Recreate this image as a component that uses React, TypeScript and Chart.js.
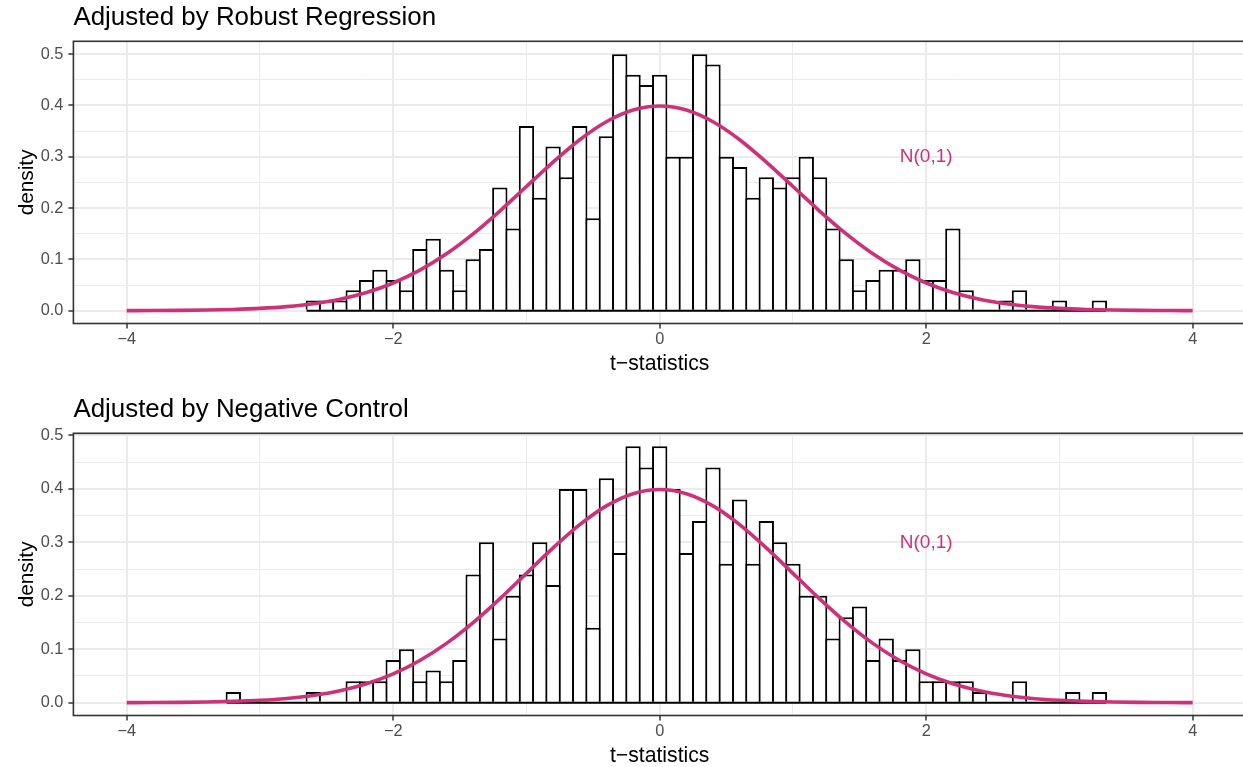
import React, { useEffect, useRef } from "react";
import { Chart, registerables } from "chart.js";
Chart.register(...registerables);

// ---------- data ----------
const binCenters = [
  -3.2, -3.1, -3.0, -2.9, -2.8, -2.7, -2.6, -2.5, -2.4, -2.3,
  -2.2, -2.1, -2.0, -1.9, -1.8, -1.7, -1.6, -1.5, -1.4, -1.3,
  -1.2, -1.1, -1.0, -0.9, -0.8, -0.7, -0.6, -0.5, -0.4, -0.3,
  -0.2, -0.1, 0.0, 0.1, 0.2, 0.3, 0.4, 0.5, 0.6, 0.7,
  0.8, 0.9, 1.0, 1.1, 1.2, 1.3, 1.4, 1.5, 1.6, 1.7,
  1.8, 1.9, 2.0, 2.1, 2.2, 2.3, 2.4, 2.5, 2.6, 2.7,
  2.8, 2.9, 3.0, 3.1, 3.2, 3.3,
];

const robustDensity = [
  0, 0, 0, 0, 0, 0, 0.02, 0.02, 0.02, 0.04,
  0.06, 0.08, 0.06, 0.04, 0.12, 0.14, 0.08, 0.04, 0.10, 0.12,
  0.24, 0.16, 0.36, 0.22, 0.32, 0.26, 0.36, 0.18, 0.34, 0.50,
  0.46, 0.44, 0.46, 0.30, 0.30, 0.50, 0.48, 0.30, 0.28, 0.22,
  0.26, 0.24, 0.26, 0.30, 0.26, 0.16, 0.10, 0.04, 0.06, 0.08,
  0.08, 0.10, 0.06, 0.06, 0.16, 0.04, 0, 0, 0.02, 0.04,
  0, 0, 0.02, 0, 0, 0.02,
];

const negControlDensity = [
  0.02, 0, 0, 0, 0, 0, 0.02, 0, 0, 0.04,
  0.04, 0.04, 0.08, 0.10, 0.04, 0.06, 0.04, 0.08, 0.24, 0.30,
  0.12, 0.20, 0.24, 0.30, 0.22, 0.40, 0.40, 0.14, 0.42, 0.28,
  0.48, 0.44, 0.48, 0.40, 0.28, 0.34, 0.44, 0.26, 0.38, 0.26,
  0.34, 0.30, 0.26, 0.20, 0.20, 0.12, 0.16, 0.18, 0.08, 0.12,
  0.08, 0.10, 0.04, 0.04, 0.04, 0.04, 0.02, 0, 0, 0.04,
  0, 0, 0, 0.02, 0, 0.02,
];

const curveX = [
  -4.0, -3.8, -3.6, -3.4, -3.2, -3.0, -2.8, -2.6, -2.4, -2.2,
  -2.0, -1.8, -1.6, -1.4, -1.2, -1.0, -0.8, -0.6, -0.4, -0.2,
  0.0, 0.2, 0.4, 0.6, 0.8, 1.0, 1.2, 1.4, 1.6, 1.8,
  2.0, 2.2, 2.4, 2.6, 2.8, 3.0, 3.2, 3.4, 3.6, 3.8, 4.0,
];
const curveY = [
  0.00013, 0.00029, 0.00061, 0.00123, 0.00238, 0.00443, 0.00792, 0.01358, 0.02239, 0.03547,
  0.05399, 0.07895, 0.11092, 0.14973, 0.19419, 0.24197, 0.28969, 0.33322, 0.36827, 0.39104,
  0.39894, 0.39104, 0.36827, 0.33322, 0.28969, 0.24197, 0.19419, 0.14973, 0.11092, 0.07895,
  0.05399, 0.03547, 0.02239, 0.01358, 0.00792, 0.00443, 0.00238, 0.00123, 0.00061, 0.00029, 0.00013,
];

const xMajorTicks = [-4, -2, 0, 2, 4];
const xMinorTicks = [-3, -1, 1, 3];
const yMajorTicks = [0, 0.1, 0.2, 0.3, 0.4, 0.5];
const yMinorTicks = [0.05, 0.15, 0.25, 0.35, 0.45];

const panelTitles = ["Adjusted by Robust Regression", "Adjusted by Negative Control"];
const curveLabel = "N(0,1)";
const curveLabelX = 2;
const curveLabelY = 0.3;
const xTitle = "t\u2212statistics";
const yTitle = "density";

// ---------- styles ----------
const FONT = '"Liberation Sans", Arial, Helvetica, sans-serif';
const CURVE_COLOR = "#CD3278";
const GRID = "#EBEBEB";
const DARK = "#333333";
const TICK_TEXT = "#4D4D4D";

const fmtX = (v: number) => (v < 0 ? "\u2212" + Math.abs(v) : String(v));
const isMajorX = (v: number) => xMajorTicks.some((t) => Math.abs(t - v) < 1e-9);
const isMajorY = (v: number) => yMajorTicks.some((t) => Math.abs(t - v) < 1e-9);

function makeDecor(title: string) {
  return {
    id: "decor",
    afterDraw(chart: any) {
      const { ctx, chartArea: a, scales } = chart;
      ctx.save();
      // curve label
      ctx.fillStyle = CURVE_COLOR;
      ctx.font = `19px ${FONT}`;
      ctx.textAlign = "center";
      ctx.textBaseline = "middle";
      ctx.fillText(curveLabel, scales.x.getPixelForValue(curveLabelX), scales.y.getPixelForValue(curveLabelY));
      // panel border
      ctx.strokeStyle = DARK;
      ctx.lineWidth = 1.6;
      ctx.strokeRect(a.left, a.top, a.right - a.left, a.bottom - a.top);
      // title
      ctx.fillStyle = "#000";
      ctx.font = `25.9px ${FONT}`;
      ctx.textAlign = "left";
      ctx.textBaseline = "alphabetic";
      ctx.fillText(title, a.left, a.top - 16.3);
      ctx.restore();
    },
  };
}

function Panel({ values, title, top }: { values: number[]; title: string; top: number }) {
  const ref = useRef<HTMLCanvasElement>(null);
  useEffect(() => {
    const canvas = ref.current!;
    const ymax = Math.max(...values);
    const first = values.findIndex((v) => v > 0);
    let last = values.length - 1;
    while (last > 0 && values[last] === 0) last--;
    const halfBin = (binCenters[1] - binCenters[0]) / 2;
    const baseline = [
      { x: binCenters[first] - halfBin, y: 0 },
      { x: binCenters[last] + halfBin, y: 0 },
    ];
    const chart = new Chart(canvas, {
      type: "bar",
      data: {
        datasets: [
          {
            type: "line",
            data: curveX.map((x, i) => ({ x, y: curveY[i] })),
            borderColor: CURVE_COLOR,
            borderWidth: 3.6,
            pointRadius: 0,
            cubicInterpolationMode: "monotone",
            fill: false,
            order: 0,
          } as any,
          {
            type: "line",
            data: baseline,
            borderColor: "#000",
            borderWidth: 2,
            pointRadius: 0,
            fill: false,
            order: 1,
          } as any,
          {
            type: "bar",
            data: binCenters.map((x, i) => ({ x, y: values[i] })),
            backgroundColor: "#FFFFFF",
            borderColor: "#000000",
            borderWidth: 2,
            borderSkipped: "start",
            barPercentage: 1.15,
            categoryPercentage: 1,
            inflateAmount: 0,
            order: 2,
          } as any,
        ],
      },
      options: {
        animation: false,
        responsive: false,
        devicePixelRatio: 1,
        layout: { padding: { top: 41.3, left: 0, right: 14, bottom: 0.5 } },
        plugins: {
          legend: { display: false },
          tooltip: { enabled: false },
          title: { display: false },
        },
        scales: {
          x: {
            type: "linear",
            min: -4.4,
            max: 4.4,
            offset: false,
            afterBuildTicks: (s: any) => {
              s.ticks = [...xMajorTicks, ...xMinorTicks].sort((a, b) => a - b).map((v) => ({ value: v }));
            },
            afterFit: (s: any) => {
              s.height = 60;
            },
            ticks: {
              autoSkip: false,
              maxRotation: 0,
              padding: 1,
              color: TICK_TEXT,
              font: { family: FONT, size: 16.3 },
              callback: (v: any) => (isMajorX(Number(v)) ? fmtX(Number(v)) : ""),
            },
            grid: {
              offset: false,
              color: GRID,
              lineWidth: (c: any) => (c.tick && isMajorX(c.tick.value) ? 2 : 1),
              tickColor: (c: any) => (c.tick && isMajorX(c.tick.value) ? DARK : "rgba(0,0,0,0)"),
              tickLength: 5,
              tickWidth: 1.5,
            },
            border: { display: false },
            title: {
              display: true,
              text: xTitle,
              color: "#000",
              font: { family: FONT, size: 21.2 },
              padding: { top: 0, bottom: 7 },
            },
          },
          y: {
            type: "linear",
            min: -0.05 * ymax,
            max: 1.05 * ymax,
            afterBuildTicks: (s: any) => {
              s.ticks = [...yMajorTicks, ...yMinorTicks].sort((a, b) => a - b).map((v) => ({ value: v }));
            },
            afterFit: (s: any) => {
              s.width = 73.4;
            },
            ticks: {
              autoSkip: false,
              padding: 5,
              color: TICK_TEXT,
              font: { family: FONT, size: 16.3 },
              callback: (v: any) => (isMajorY(Number(v)) ? Number(v).toFixed(1) : ""),
            },
            grid: {
              color: GRID,
              lineWidth: (c: any) => (c.tick && isMajorY(c.tick.value) ? 2 : 1),
              tickColor: (c: any) => (c.tick && isMajorY(c.tick.value) ? DARK : "rgba(0,0,0,0)"),
              tickLength: 5,
              tickWidth: 1.5,
            },
            border: { display: false },
            title: {
              display: true,
              text: yTitle,
              color: "#000",
              font: { family: FONT, size: 20.8 },
              padding: { top: 15, bottom: 0 },
            },
          },
        },
      } as any,
      plugins: [makeDecor(title)],
    });
    return () => chart.destroy();
  }, [values, title]);
  return (
    <canvas
      ref={ref}
      width={1260}
      height={384}
      style={{ position: "absolute", left: 0, top, width: 1260, height: 384 }}
    />
  );
}

export default function App() {
  return (
    <div
      style={{
        position: "absolute",
        left: 0,
        top: 0,
        width: 1243,
        height: 767,
        overflow: "hidden",
        background: "#FFFFFF",
      }}
    >
      <Panel values={robustDensity} title={panelTitles[0]} top={0} />
      <Panel values={negControlDensity} title={panelTitles[1]} top={392} />
    </div>
  );
}
